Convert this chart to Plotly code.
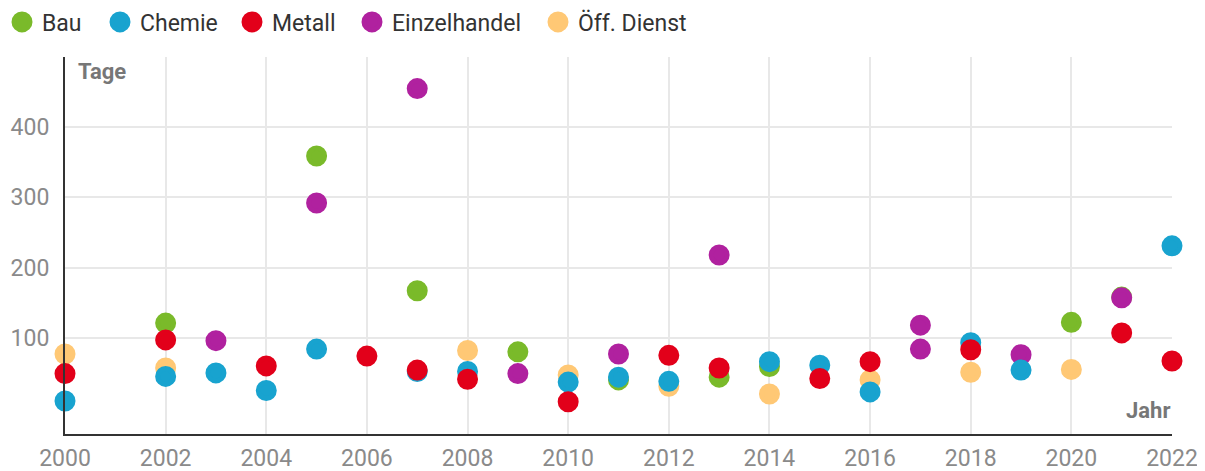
import plotly.graph_objects as go

series_names = ["Bau", "Chemie", "Metall", "Einzelhandel", "Öff. Dienst"]
colors = ["#7aba2a", "#18a3cf", "#e2001a", "#b0219f", "#ffc875"]

bau_years = [2002, 2005, 2007, 2009, 2011, 2013, 2014, 2020, 2021]
bau_days = [121, 359, 167, 80, 40, 44, 59, 122, 158]

chemie_years = [2000, 2002, 2003, 2004, 2005, 2007, 2008, 2010, 2011, 2012, 2014, 2015, 2016, 2018, 2019, 2022]
chemie_days = [10, 45, 50, 25, 84, 52, 52, 37, 44, 38, 66, 61, 23, 93, 54, 231]

metall_years = [2000, 2002, 2004, 2006, 2007, 2008, 2010, 2012, 2013, 2015, 2016, 2018, 2021, 2022]
metall_days = [49, 97, 60, 74, 54, 41, 9, 75, 57, 42, 66, 83, 107, 67]

einzel_years = [2003, 2005, 2007, 2009, 2011, 2013, 2017, 2017, 2019, 2021]
einzel_days = [96, 292, 455, 49, 77, 218, 118, 84, 76, 157]

oeff_years = [2000, 2002, 2008, 2010, 2012, 2014, 2016, 2018, 2020]
oeff_days = [77, 57, 82, 47, 31, 20, 40, 51, 55]

x_ticks = list(range(2000, 2023, 2))
y_ticks = [100, 200, 300, 400]

data = [
    (bau_years, bau_days),
    (chemie_years, chemie_days),
    (metall_years, metall_days),
    (einzel_years, einzel_days),
    (oeff_years, oeff_days),
]

W, H = 1197, 463  # page has an ~8px body margin in the viewer
ML, MR, MT, MB = 57, 33, 49, 37
PW = W - ML - MR

# legend entry marker centres (page pixels)
legend_px = [22, 120, 252, 372, 558]
legend_ids = ["legend", "legend2", "legend3", "legend4", "legend5"]

fig = go.Figure()
order = [4, 0, 3, 1, 2]
for i in order:
    xs, ys = data[i]
    fig.add_trace(go.Scatter(
        x=xs, y=ys, mode="markers", name=series_names[i],
        marker=dict(color=colors[i], size=16, line=dict(width=5, color=colors[i])),
        cliponaxis=False, legend=legend_ids[i],
    ))

tickfont = dict(family="Roboto", size=23, color="#8a8a8a")

layout_legends = {}
for i, lid in enumerate(legend_ids):
    layout_legends[lid] = dict(
        orientation="h", xref="paper", yref="container",
        x=(legend_px[i] - 8 - 20 - ML) / PW, y=1 - 14 / H,
        xanchor="left", yanchor="middle",
        font=dict(family="Roboto", size=23, color="#333"),
        itemsizing="trace", bgcolor="rgba(0,0,0,0)",
    )

fig.update_layout(
    width=W, height=H,
    margin=dict(l=ML, r=MR, t=MT, b=MB, autoexpand=False),
    plot_bgcolor="white", paper_bgcolor="white",
    font=dict(family="Roboto", size=23, color="#333"),
    showlegend=True,
    xaxis=dict(range=[2000, 2022], tickvals=x_ticks, showgrid=True,
               gridcolor="#e8e8e8", gridwidth=2, showline=True, linecolor="#333",
               linewidth=2, zeroline=False, ticks="", ticklen=0,
               ticklabelstandoff=2, tickfont=tickfont, fixedrange=True),
    yaxis=dict(range=[-37, 500], tickvals=y_ticks, showgrid=True,
               gridcolor="#e8e8e8", gridwidth=2, showline=True, linecolor="#333",
               linewidth=2, zeroline=False, ticks="", ticklen=0,
               ticklabelstandoff=9, tickfont=tickfont, fixedrange=True),
    annotations=[
        dict(text="<b>Tage</b>", xref="paper", yref="paper", x=11 / PW, y=1 - 15 / 377,
             xanchor="left", yanchor="middle", showarrow=False,
             font=dict(family="Roboto", size=22, color="#777")),
        dict(text="<b>Jahr</b>", xref="paper", yref="paper", x=1.0, y=24 / 377,
             xanchor="right", yanchor="middle", showarrow=False,
             font=dict(family="Roboto", size=22, color="#777")),
    ],
    **layout_legends,
)

fig.write_html("out.html")
